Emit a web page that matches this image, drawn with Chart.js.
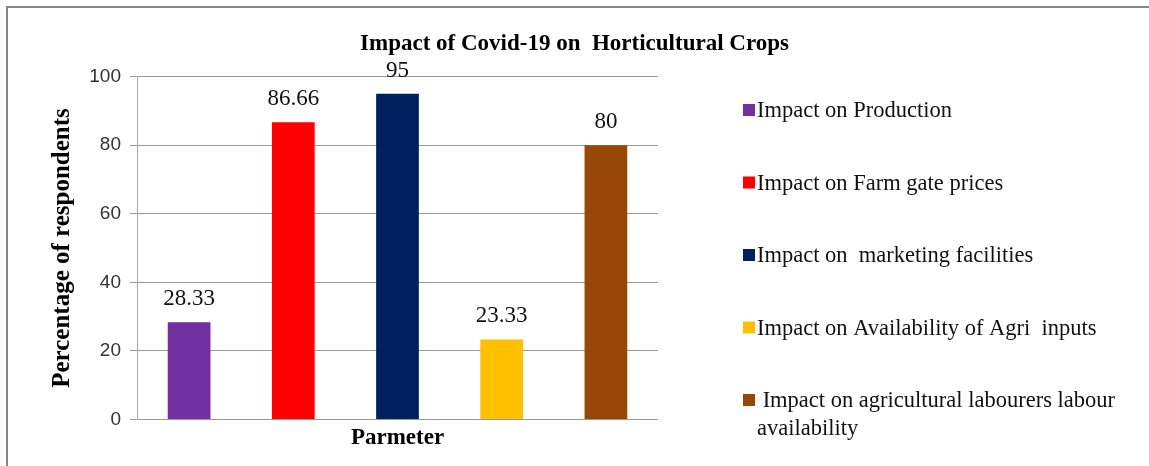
<!DOCTYPE html>
<html>
<head>
<meta charset="utf-8">
<script src="https://cdn.jsdelivr.net/npm/chart.js@4"></script>
<style>
  html, body { margin: 0; padding: 0; background: #fff; overflow: hidden; }
  #wrap { position: relative; width: 1149px; height: 466px; }
  #frame { position: absolute; left: 6px; top: 6px; width: 1200px; height: 520px; border: 2px solid #858585; }
  canvas { position: absolute; left: 0; top: 0; }
</style>
</head>
<body>
<div id="wrap">
  <canvas id="impactChart" width="1149" height="466"></canvas>
  <div id="frame"></div>
</div>
<script>
// chart data
const categories = [
    'Impact on Production',
    'Impact on Farm gate prices',
    'Impact on  marketing facilities',
    'Impact on Availability of Agri  inputs',
    ' Impact on agricultural labourers labour availability'
];
// legend lines (last entry wraps in the original)
const legendLines = [
    ['Impact on Production'],
    ['Impact on Farm gate prices'],
    ['Impact on  marketing facilities'],
    ['Impact on Availability of Agri  inputs'],
    [' Impact on agricultural labourers labour', 'availability']
];
const percentages = [28.33, 86.66, 95, 23.33, 80];
const valueLabels = ['28.33', '86.66', '95', '23.33', '80'];
const barColors = ['#7030A0', '#FF0000', '#002060', '#FFC000', '#974706'];
const yTicks = [0, 20, 40, 60, 80, 100];

const serif = "'Liberation Serif', 'Times New Roman', serif";

// values above each bar
const valueLabelPlugin = {
    id: 'valueLabels',
    afterDatasetsDraw(chart) {
        const ctx = chart.ctx;
        const meta = chart.getDatasetMeta(0);
        ctx.save();
        ctx.font = '23px ' + serif;
        ctx.fillStyle = '#111';
        ctx.textAlign = 'center';
        ctx.textBaseline = 'alphabetic';
        meta.data.forEach((bar, i) => {
            ctx.fillText(valueLabels[i], bar.x, bar.y - 17);
        });
        ctx.restore();
    }
};

// legend on the right, like the Excel one
const sideLegendPlugin = {
    id: 'sideLegend',
    afterDraw(chart) {
        const ctx = chart.ctx;
        const boxX = 743, textX = 757, firstBase = 117, step = 72.5;
        ctx.save();
        ctx.font = '22.5px ' + serif;
        ctx.textAlign = 'left';
        ctx.textBaseline = 'alphabetic';
        legendLines.forEach((lines, i) => {
            const base = firstBase + i * step;
            ctx.fillStyle = barColors[i];
            ctx.fillRect(boxX, base - 13, 12, 12);
            ctx.fillStyle = '#111';
            lines.forEach((line, j) => {
                ctx.fillText(line, textX, base + j * 28);
            });
        });
        ctx.restore();
    }
};

document.addEventListener('DOMContentLoaded', () => {
    const ctx = document.getElementById('impactChart').getContext('2d');
    const impactChart = new Chart(ctx, {
        type: 'bar',
        data: {
            labels: categories,
            datasets: [{
                label: 'Percentage of respondents',
                data: percentages,
                backgroundColor: barColors,
                borderWidth: 0,
                barPercentage: 0.41,
                categoryPercentage: 1.0
            }]
        },
        options: {
            responsive: false,
            animation: false,
            layout: {
                padding: 0
            },
            plugins: {
                legend: { display: false },
                tooltip: { enabled: false },
                title: {
                    display: true,
                    text: 'Impact of Covid-19 on  Horticultural Crops',
                    color: '#000',
                    font: { family: serif, size: 23, weight: 'bold' },
                    padding: { top: 30, bottom: 19 }
                }
            },
            scales: {
                x: {
                    ticks: { display: false },
                    grid: { display: false, drawTicks: false },
                    border: { display: false },
                    title: {
                        display: true,
                        text: 'Parmeter',
                        color: '#000',
                        font: { family: serif, size: 23, weight: 'bold' },
                        padding: { top: 5, bottom: 14 }
                    }
                },
                y: {
                    min: 0,
                    max: 100,
                    afterBuildTicks(scale) {
                        scale.ticks = yTicks.map(v => ({ value: v }));
                    },
                    afterFit(scale) {
                        scale.width = 137;
                    },
                    ticks: {
                        color: '#333',
                        padding: 9,
                        font: { family: "'Liberation Sans', Arial, sans-serif", size: 19 }
                    },
                    grid: { color: '#9a9a9a', lineWidth: 1, tickLength: 7 },
                    border: { color: '#a6a6a6' },
                    title: {
                        display: true,
                        text: 'Percentage of respondents',
                        color: '#000',
                        font: { family: serif, size: 25, weight: 'bold' },
                        padding: { top: 48, bottom: 10 }
                    }
                },
                // empty axis that keeps room for the legend on the right
                legendSpace: {
                    type: 'linear',
                    position: 'right',
                    ticks: { display: false },
                    grid: { display: false, drawTicks: false },
                    border: { display: false },
                    afterFit(scale) {
                        scale.width = 491;
                    }
                }
            }
        },
        plugins: [valueLabelPlugin, sideLegendPlugin]
    });
});
</script>
</body>
</html>
